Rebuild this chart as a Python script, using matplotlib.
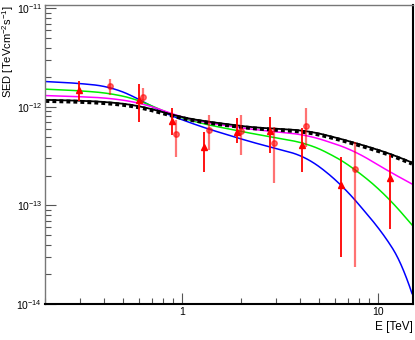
import numpy as np
import matplotlib
matplotlib.use('Agg')
import matplotlib.pyplot as plt
from matplotlib.ticker import FixedLocator, NullFormatter, LogLocator

plt.rcParams['font.family'] = ['Liberation Sans', 'DejaVu Sans']
plt.rcParams['mathtext.fontset'] = 'custom'
plt.rcParams['mathtext.rm'] = 'Liberation Sans'
plt.rcParams['mathtext.it'] = 'Liberation Sans:italic'
plt.rcParams['mathtext.bf'] = 'Liberation Sans:bold'

# data set 1 (triangles)
E_tri = [0.297, 0.605, 0.884, 1.293, 1.895, 2.787, 4.085, 6.47, 11.43]
sed_tri = [1.488e-12, 1.178e-12, 0.726e-12, 0.390e-12, 0.561e-12, 0.575e-12, 0.411e-12, 0.1615e-12, 0.190e-12]
hi_tri = [1.85e-12, 1.712e-12, 0.977e-12, 0.561e-12, 0.773e-12, 0.792e-12, 0.612e-12, 0.311e-12, 0.326e-12]
lo_tri = [1.159e-12, 0.709e-12, 0.520e-12, 0.2205e-12, 0.431e-12, 0.341e-12, 0.2205e-12, 0.0302e-12, 0.0573e-12]

# data set 2 (circles)
E_cir = [0.43, 0.629, 0.926, 1.366, 2.002, 2.921, 4.28, 7.615]
sed_cir = [1.633e-12, 1.272e-12, 0.528e-12, 0.584e-12, 0.575e-12, 0.428e-12, 0.641e-12, 0.2345e-12]
hi_cir = [1.923e-12, 1.56e-12, 0.738e-12, 0.829e-12, 0.829e-12, 0.631e-12, 0.977e-12, 0.444e-12]
lo_cir = [1.324e-12, 1.098e-12, 0.313e-12, 0.366e-12, 0.326e-12, 0.168e-12, 0.395e-12, 0.0239e-12]

# model curves
E_mod = [0.201, 0.292, 0.430, 0.610, 0.770, 0.973, 1.23, 2.21, 4.30, 5.62, 7.53, 11.33, 14.83]
sed_black = [1.178e-12, 1.159e-12, 1.116e-12, 1.024e-12, 0.900e-12, 0.792e-12, 0.726e-12,
             0.622e-12, 0.575e-12, 0.508e-12, 0.434e-12, 0.339e-12, 0.272e-12]
sed_magenta = [1.302e-12, 1.272e-12, 1.226e-12, 1.098e-12, 0.948e-12, 0.792e-12, 0.709e-12,
               0.594e-12, 0.520e-12, 0.441e-12, 0.360e-12, 0.2205e-12, 0.165e-12]

E_green = [0.201, 0.292, 0.430, 0.610, 0.770, 0.973, 1.23, 2.21, 4.30, 5.62, 7.53, 8.76, 10.94, 14.83]
sed_green = [1.512e-12, 1.464e-12, 1.377e-12, 1.17e-12, 0.932e-12, 0.782e-12, 0.683e-12,
             0.541e-12, 0.428e-12, 0.339e-12, 0.2385e-12, 0.1845e-12, 0.1278e-12, 0.0634e-12]

E_blue = [0.201, 0.292, 0.430, 0.610, 0.770, 0.973, 1.23, 2.21, 4.30, 5.0, 6.54, 7.35, 10.94, 12.74, 14.32, 14.83]
sed_blue = [1.807e-12, 1.740e-12, 1.607e-12, 1.197e-12, 0.896e-12, 0.756e-12, 0.634e-12,
            0.444e-12, 0.313e-12, 0.2477e-12, 0.1615e-12, 0.1228e-12, 0.0482e-12, 0.0293e-12,
            0.01893e-12, 0.01454e-12]

y_major = [1e-14, 1e-13, 1e-12, 1e-11]


def smooth(xs, ys, n=400, k=18):
    lx = np.log10(xs)
    ly = np.log10(ys)
    gx = np.linspace(lx[0], lx[-1], n)
    gy = np.interp(gx, lx, ly)
    # moving average in log-log space, ends extended linearly
    pad = np.concatenate([gy[0] + (gy[0] - gy[1]) * np.arange(k, 0, -1),
                          gy,
                          gy[-1] + (gy[-1] - gy[-2]) * np.arange(1, k + 1)])
    gy = np.convolve(pad, np.ones(2 * k + 1) / (2 * k + 1), mode='same')[k:-k]
    return 10 ** gx, 10 ** gy


fig = plt.figure(figsize=(4.15, 3.4), dpi=100)
ax = fig.add_axes([45 / 415, 36 / 340, 368 / 415, 299 / 340])

x, y = smooth(E_blue, sed_blue)
ax.plot(x, y, color='#0000ff', lw=1.1)
x, y = smooth(E_green, sed_green)
ax.plot(x, y, color='#00ee00', lw=1.1)
x, y = smooth(E_mod, sed_magenta)
ax.plot(x, y, color='#ff00ff', lw=1.1)
x, y = smooth(E_mod, sed_black)
ax.plot(x, y, color='black', lw=1.3)
ax.plot(x, y * 0.975, color='black', lw=2.8, ls=(0, (1.0, 0.8)))

ax.errorbar(E_cir, sed_cir,
            yerr=[np.array(sed_cir) - np.array(lo_cir), np.array(hi_cir) - np.array(sed_cir)],
            fmt='o', color='#ff0000', alpha=0.55, ms=4, elinewidth=1.6, capsize=0)
ax.errorbar(E_tri, sed_tri,
            yerr=[np.array(sed_tri) - np.array(lo_tri), np.array(hi_tri) - np.array(sed_tri)],
            fmt='^', color='#ff0000', ms=4, elinewidth=1.3, capsize=0)

ax.set_xscale('log')
ax.set_yscale('log')
ax.set_xlim(0.2, 15)
ax.set_ylim(1e-14, 1.08e-11)

ax.xaxis.set_major_locator(FixedLocator([1, 10]))
ax.set_xticklabels(['1', '10'])
ax.xaxis.set_minor_locator(LogLocator(base=10, subs=np.arange(2, 10)))
ax.xaxis.set_minor_formatter(NullFormatter())
ax.yaxis.set_major_locator(FixedLocator(y_major))
ax.set_yticklabels([r'$10^{-14}$', r'$10^{-13}$', r'$10^{-12}$', r'$10^{-11}$'])
ax.yaxis.set_minor_locator(LogLocator(base=10, subs=np.arange(2, 10), numticks=20))
ax.yaxis.set_minor_formatter(NullFormatter())

ax.tick_params(which='both', direction='in', top=False, right=False, labelsize=7.5, pad=2)
ax.tick_params(which='major', length=8, width=0.8, color='#555555')
ax.tick_params(which='minor', length=4, width=0.8, color='#555555')
for lab in ax.get_yticklabels():
    lab.set_verticalalignment('center_baseline')

for s in ['left', 'top']:
    ax.spines[s].set_color('#777777')
    ax.spines[s].set_linewidth(1.0)
for s in ['right', 'bottom']:
    ax.spines[s].set_color('black')
    ax.spines[s].set_linewidth(1.5)

fig.text(8.5 / 415, 1 - 5 / 340, r'SED [TeVcm$^{-2}$s$^{-1}$]', rotation=90,
         ha='center', va='top', fontsize=8)
ax.set_xlabel('E [TeV]', fontsize=8.5, loc='right', labelpad=3)

fig.savefig('out.png', dpi=100)
